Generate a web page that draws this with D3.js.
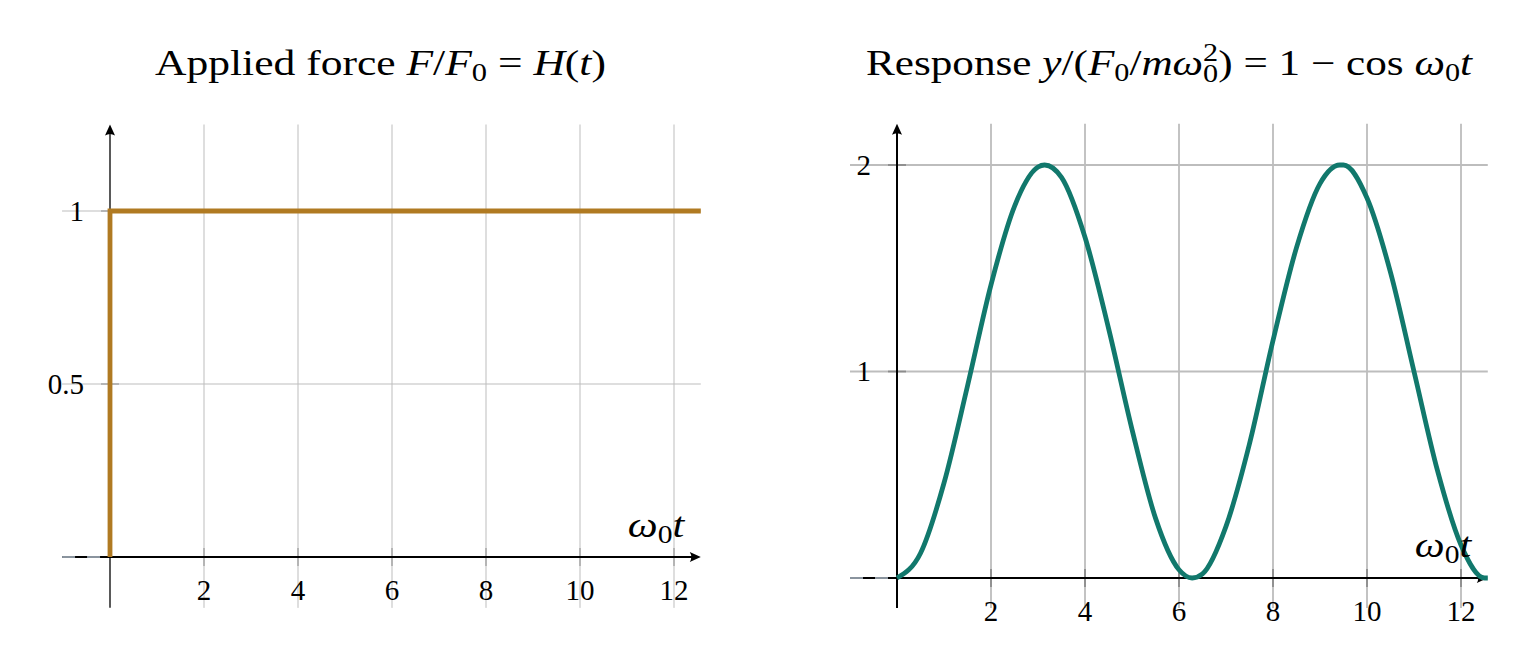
<!DOCTYPE html>
<html>
<head>
<meta charset="utf-8">
<script src="https://cdn.jsdelivr.net/npm/d3@7"></script>
<style>
  body { margin: 0; background: #fff; }
  text { font-family: "Liberation Serif", "DejaVu Serif", serif; fill: #000; }
</style>
</head>
<body>
<svg id="chart" width="1522" height="665"></svg>
<script>
// ---- data ----
const xTicks = [2, 4, 6, 8, 10, 12];

// applied force (unit step)
const forceX = [0, 0, 12.57];
const forceY = [0, 1, 1];
const forceYTicks = [0.5, 1];
const forceYLabels = ['0.5', '1'];

// response curve
const respX = [0, 0.5, 1, 1.5, 2, 2.5, 3, 3.14, 3.5, 4, 4.5, 5, 5.5, 6, 6.28, 6.5,
               7, 7.5, 8, 8.5, 9, 9.42, 9.5, 10, 10.5, 11, 11.5, 12, 12.5, 12.57];
const respY = [0, 0.12, 0.46, 0.93, 1.42, 1.8, 1.99, 2, 1.94, 1.65, 1.21, 0.72, 0.29, 0.04, 0, 0.02,
               0.25, 0.65, 1.15, 1.6, 1.91, 2, 2, 1.84, 1.48, 1, 0.52, 0.16, 0, 0];
const respYTicks = [1, 2];
const respYLabels = ['1', '2'];

const svg = d3.select('#chart');

const panels = [
  {
    xs: forceX, ys: forceY, yTicks: forceYTicks, yLabels: forceYLabels,
    color: '#b07a22', curve: d3.curveLinear,
    x: d3.scaleLinear().domain([0, 12]).range([110, 674]),
    y: d3.scaleLinear().domain([0, 1]).range([557, 211]),
    xMin: -1.02, xMax: 12.57, yMin: -0.147, yMax: 1.25,
    gridWidth: 1, yAxisWidth: 1.3,
    title: [
      { t: 'Applied force ' }, { t: 'F', it: 1 }, { t: '/' }, { t: 'F', it: 1 }, { t: '0', sub: 1 },
      { t: ' = ' }, { t: 'H', it: 1 }, { t: '(' }, { t: 't', it: 1 }, { t: ')' }
    ],
    titleLeft: 155, titleWidth: 451, labelY: 537
  },
  {
    xs: respX, ys: respY, yTicks: respYTicks, yLabels: respYLabels,
    color: '#11786c', curve: d3.curveMonotoneX,
    x: d3.scaleLinear().domain([0, 12]).range([897, 1461]),
    y: d3.scaleLinear().domain([0, 2]).range([578, 165]),
    xMin: -1.0, xMax: 12.57, yMin: -0.145, yMax: 2.2,
    gridWidth: 1.8, yAxisWidth: 2,
    title: [
      { t: 'Response ' }, { t: 'y', it: 1 }, { t: '/(' }, { t: 'F', it: 1 }, { t: '0', sub: 1 },
      { t: '/' }, { t: 'mω', it: 1 }, { t: '2', sup: 1 }, { t: '0', subUnder: 1 },
      { t: ') = 1 − cos ' }, { t: 'ω', it: 1 }, { t: '0', sub: 1 }, { t: 't', it: 1 }
    ],
    titleLeft: 866, titleWidth: 608, labelY: 557
  }
];

// write a run of math-ish segments into a text element
function writeMath(text, segs, fs) {
  let shift = 0;
  segs.forEach(s => {
    const ts = text.append('tspan').text(s.t);
    let target = 0;
    if (s.sub) target = 0.17 * fs;
    if (s.sup) target = -0.4 * fs;
    if (s.subUnder) {
      target = 0.2 * fs;
      ts.attr('dx', -0.35 * fs);
    }
    if (s.sub || s.sup || s.subUnder) ts.attr('font-size', 0.7 * fs);
    if (target !== shift) ts.attr('dy', target - shift);
    shift = target;
    if (s.it) ts.attr('font-style', 'italic');
  });
}

// stretch a text group horizontally so it spans the measured width
function fitText(g, text, left, baseline, width) {
  const w = text.node().getBBox().width;
  g.attr('transform', `translate(${left},${baseline}) scale(${width / w},1)`);
}

function arrowHead(g, x, y, dir) {
  const L = 11, H = 5;
  let p;
  if (dir === 'right') {
    p = `M${x},${y} L${x - L},${y - H} Q${x - L + 3},${y} ${x - L},${y + H} Z`;
  } else {
    p = `M${x},${y} L${x - H},${y + L} Q${x},${y + L - 3} ${x + H},${y + L} Z`;
  }
  g.append('path').attr('d', p).attr('fill', '#000');
}

panels.forEach(p => {
  const g = svg.append('g');
  const { x, y } = p;
  const x0 = x(0), y0 = y(0);

  // grid
  g.append('g').selectAll('line').data(xTicks).join('line')
    .attr('x1', d => x(d)).attr('x2', d => x(d))
    .attr('y1', y(p.yMin)).attr('y2', y(p.yMax))
    .attr('stroke', '#bdbdbd').attr('stroke-width', p.gridWidth);
  g.append('g').selectAll('line').data(p.yTicks).join('line')
    .attr('x1', x(p.xMin)).attr('x2', x(p.xMax))
    .attr('y1', d => y(d)).attr('y2', d => y(d))
    .attr('stroke', '#bdbdbd').attr('stroke-width', p.gridWidth);

  // tick marks
  g.append('g').selectAll('line').data(xTicks).join('line')
    .attr('x1', d => x(d)).attr('x2', d => x(d))
    .attr('y1', y0 - 9).attr('y2', y0 + 9)
    .attr('stroke', '#8c8c8c').attr('stroke-width', p.gridWidth);
  g.append('g').selectAll('line').data(p.yTicks).join('line')
    .attr('x1', x0 - 9).attr('x2', x0 + 9)
    .attr('y1', d => y(d)).attr('y2', d => y(d))
    .attr('stroke', '#8c8c8c').attr('stroke-width', p.gridWidth);

  // axes
  g.append('line')
    .attr('x1', x(p.xMin)).attr('x2', x(p.xMax) - 4)
    .attr('y1', y0).attr('y2', y0)
    .attr('stroke', '#000').attr('stroke-width', 2);
  g.append('line')
    .attr('x1', x(p.xMin)).attr('x2', x0)
    .attr('y1', y0).attr('y2', y0)
    .attr('stroke', '#8a949e').attr('stroke-width', 2.2)
    .attr('stroke-dasharray', '13,12');
  arrowHead(g, x(p.xMax), y0, 'right');
  g.append('line')
    .attr('x1', x0).attr('x2', x0)
    .attr('y1', y(p.yMin)).attr('y2', y(p.yMax) + 4)
    .attr('stroke', '#000').attr('stroke-width', p.yAxisWidth);
  arrowHead(g, x0, y(p.yMax), 'up');

  // data line
  const pts = p.xs.map((v, i) => [v, p.ys[i]]);
  g.append('path')
    .datum(pts)
    .attr('d', d3.line().x(d => x(d[0])).y(d => y(d[1])).curve(p.curve))
    .attr('fill', 'none')
    .attr('stroke', p.color)
    .attr('stroke-width', 4.8)
    .attr('stroke-linejoin', 'miter');

  // tick labels
  g.append('g').selectAll('text').data(xTicks).join('text')
    .attr('x', d => x(d)).attr('y', y0 + 43)
    .attr('text-anchor', 'middle')
    .attr('font-size', 29)
    .text(d => d);
  g.append('g').selectAll('text').data(p.yTicks).join('text')
    .attr('x', x0 - 26).attr('y', d => y(d))
    .attr('dy', '0.33em')
    .attr('text-anchor', 'end')
    .attr('font-size', 29)
    .text((d, i) => p.yLabels[i]);

  // axis label
  const lg = g.append('g');
  const lt = lg.append('text').attr('font-size', 35);
  writeMath(lt, [{ t: 'ω', it: 1 }, { t: '0', sub: 1 }, { t: 't', it: 1 }], 35);
  fitText(lg, lt, x(p.xMax) - 73, p.labelY, 58);

  // title
  const tg = g.append('g');
  const tt = tg.append('text').attr('font-size', 35);
  writeMath(tt, p.title, 35);
  fitText(tg, tt, p.titleLeft, 75, p.titleWidth);
});
</script>
</body>
</html>
